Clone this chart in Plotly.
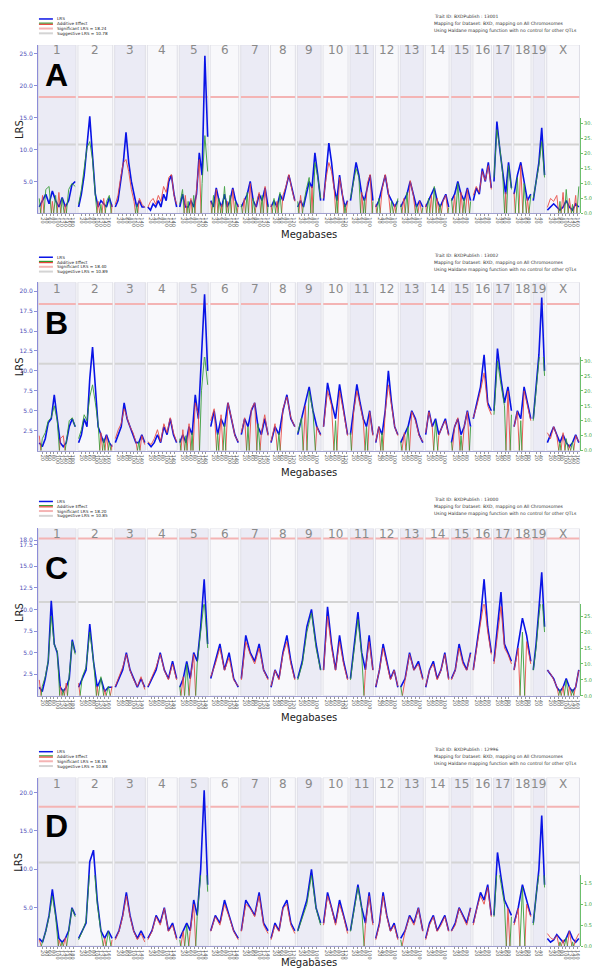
import numpy as np
import plotly.graph_objects as go

# ---------------- data ----------------
CHROMS = ["1", "2", "3", "4", "5", "6", "7", "8", "9", "10", "11", "12", "13", "14", "15", "16", "17", "18", "19", "X"]
CHR_LEN = [195.5, 182.1, 160.0, 156.5, 151.8, 149.7, 145.4, 129.4, 124.6, 130.7,
           122.1, 120.1, 120.4, 124.9, 104.0, 98.2, 95.0, 90.7, 61.4, 171.0]
PANELS = ["A", "B", "C", "D"]
TRAIT_IDS = ["13001", "13002", "13000", "12996"]
SIG_LRS = [18.24, 18.40, 18.20, 18.15]
SUG_LRS = [10.78, 10.89, 10.85, 10.88]

LRS_A = [[1, 2, 3, 1.5, 3.5, 2, 1, 2.5, 1, 2, 4.5, 5], [1, 3, 6, 10.5, 15.2, 9, 3, 1, 2, 1.5, 1, 2.5, 1],
         [1, 2, 5, 8, 12.7, 8, 5, 3, 1, 2, 1, 1], [1, 0.5, 1.5, 1, 2, 1, 3, 2, 5, 6, 3, 1],
         [1, 3, 1, 1, 2, 1, 3, 9.5, 6, 24.7, 12], [2, 1, 4, 2, 1, 3, 1, 2, 4, 2, 1],
         [1, 2, 3, 5, 2, 1, 3, 2, 4, 1], [1, 2, 1, 3, 2, 4, 6, 4, 2], [1, 2, 1, 3, 5, 4, 9.5, 6, 2],
         [2, 6, 11, 8, 4, 2, 6, 3, 1, 2], [2, 5, 8, 6, 3, 2, 4, 6, 2], [1, 2, 4, 6, 3, 2, 1, 2],
         [1, 2, 3, 5, 3, 1, 2, 1], [1, 2, 3, 4, 2, 1, 2, 3, 1], [2, 3, 5, 3, 2, 4, 2],
         [2, 4, 3, 7, 5, 8, 4], [5, 14.4, 10, 6, 3, 8, 4], [3, 6, 8, 5, 2, 3], [2, 5, 8, 13.4, 6],
         [0.5, 1, 1.5, 1, 0.5, 1, 2, 1, 0.5, 1.5, 1]]
ADD_A = [[-5, 6, -8, -9, 4, -6, 7, -5, 3, -8, -10, -9], [-3, -8, -15, -22, -24, -18, -6, 4, -3, 5, -4, -6, 3],
         [3, 6, 12, 17, 18, 14, 8, 4, -3, 5, 3, 2], [2, 4, 5, 3, 6, 4, 9, 7, 12, 13, 6, 3],
         [-3, -8, 6, -4, 5, -6, 8, 18, -10, -26, -14], [4, -6, 8, -5, 3, -9, 4, -6, 8, -4, 3],
         [-3, 5, -7, 10, -5, 3, 7, -6, 9, -3], [3, -5, 4, -7, 6, 9, 13, 8, 4],
         [-4, 6, -3, -8, -12, 9, -17, -12, -5], [5, 12, 17, 14, 8, -6, 12, 7, -3, 4],
         [-5, -10, -15, -12, 7, -5, 10, 13, -4], [3, -5, 8, 13, 7, -4, 3, -5], [-3, 5, -7, 11, 6, -3, 4, -2],
         [3, -5, 6, -9, 5, -3, 4, 6, -2], [-5, 6, -10, 7, -5, 8, -4], [6, 9, 7, 14, 11, 16, 8],
         [-12, -28, -22, -13, 7, -16, -8], [7, -12, 16, -10, 5, -6], [-5, -11, -16, -24, -12],
         [2, 5, 4, 6, -4, 7, -8, 5, -3, 6, -9]]

LRS_B = [[1, 0.5, 1.5, 3.5, 4, 7, 4, 1, 0.5, 1, 3, 4, 3], [1, 2, 4, 3, 9, 13, 8, 3, 2, 1, 2, 1, 0.5],
         [1, 2, 3, 6, 4, 3, 2, 1, 1, 2, 1], [1, 0.5, 1, 2, 1, 3, 2, 4, 2, 1],
         [1, 2, 1, 3, 2, 7, 4, 12, 19.6, 10], [3, 5, 2, 4, 3, 6, 4, 2, 1], [2, 4, 3, 5, 6, 3, 2, 4, 2],
         [1, 3, 2, 5, 7, 4, 3], [2, 4, 6, 8, 5, 3, 2], [3, 8.5, 6, 4, 8.3, 5, 2], [2, 5, 8.3, 6, 4, 3, 5, 2],
         [1, 3, 2, 5, 10, 6, 3, 2], [1, 2, 3, 5, 4, 2, 1], [2, 5, 3, 4, 2, 3, 4, 2], [1, 3, 4, 2, 3, 5, 3],
         [4, 6, 8, 12, 6, 5], [5, 12.8, 9, 6, 8, 5], [3, 5, 4, 8, 6, 4], [4, 8, 12, 19.2, 10],
         [1, 2, 3, 2, 1, 2, 1, 0.5, 1, 2, 1]]
ADD_B = [[5, -4, -6, -10, -11, -15, -10, 4, 5, -3, -10, -11, -8], [-4, -7, -12, -10, -18, -22, -16, -9, 6, -4, 5, -3, 2],
         [4, 7, 9, 14, 11, 8, 6, 3, -3, 5, 2], [3, 2, 4, 7, 3, 9, 6, 11, 6, 3],
         [-4, 7, -5, 9, -6, 16, 12, -20, -32, -22], [10, 14, -6, 12, -9, 16, 11, 5, 3],
         [6, 11, -8, 14, 16, -9, 6, 12, 5], [3, 9, -6, 14, 18, 11, 8], [-6, -11, 15, -20, -13, 8, 5],
         [8, 20, 15, -10, 20, 13, 5], [-6, 13, 20, 15, 10, -8, 13, 5], [3, 8, -6, 13, 22, 15, 8, 5],
         [-3, 6, -8, 13, 10, 5, 3], [6, 13, 8, -10, 5, 8, 10, 5], [-3, 8, 11, -5, 8, 13, -8],
         [11, 15, 20, 26, 15, 12], [-12, -30, -22, -15, 20, -12], [8, 13, -10, 20, 15, 10],
         [-10, -20, -28, -40, -25], [6, 4, 8, 5, -3, 6, -4, 2, -3, 5, 3]]

LRS_C = [[1, 0.5, 2, 4, 11, 6, 5, 1, 0.5, 1, 2, 6.5, 5], [1, 2, 3, 8.3, 4, 1, 2, 0.5, 1, 1],
         [1, 2, 3, 5, 3, 2, 1, 2, 1], [1, 2, 3, 5, 3, 2, 4, 2], [1, 2, 4, 2, 5, 4, 8, 13.5, 6],
         [2, 4, 6, 3, 5, 2, 1], [2, 7, 5, 4, 6, 3, 2], [1, 3, 2, 5, 7, 4, 2], [2, 4, 8, 10, 6, 3],
         [3, 10.3, 6, 3, 7, 4, 2], [2, 6, 9.7, 5, 3, 7, 3], [1, 3, 6, 4, 2, 3, 1], [1, 2, 5, 3, 4, 2],
         [1, 3, 4, 2, 3, 5, 2], [2, 3, 6, 4, 3, 5], [3, 6, 9, 13.5, 8, 5], [4, 8, 12, 6, 5, 4],
         [3, 6, 9, 7, 4], [3, 6, 10, 14.3, 8], [3, 2.5, 2, 1, 0.5, 1, 2, 1, 0.5, 1, 3]]
ADD_C = [[5, -3, -6, -11, -25, -16, -14, 3, -2, 4, -6, -17, -13], [4, -6, -9, -20, -11, 3, -6, 2, -3, 3],
         [3, 6, 9, 13, 8, 5, 3, 6, 2], [3, 6, 9, 13, 8, 5, 10, 5], [-3, 6, -10, 5, 13, -10, -20, -30, -15],
         [6, 10, 15, 8, 12, 5, 3], [5, 17, 13, 10, 15, 8, 5], [3, 8, 5, 13, 17, 10, 5],
         [-5, -10, -20, -26, -15, -8], [8, 25, 15, 8, 17, 10, 5], [-5, -15, -24, -13, 8, 17, 8],
         [3, 8, 15, 10, 5, 8, 3], [-3, 5, 13, 8, 10, 5], [3, 8, 10, 5, 8, 13, 5], [5, 8, 15, 10, 8, 13],
         [8, 15, 22, 30, 20, 13], [10, 20, 28, 15, 13, 10], [8, 15, -20, 17, 10], [-8, -15, -25, -32, -20],
         [8, 7, 5, 3, -2, 3, -5, 3, -2, 3, 8]]

LRS_D = [[1, 0.5, 2, 4, 7.4, 4, 1, 0.5, 1, 2, 5, 4], [1, 2, 3, 11, 12.5, 6, 2, 1, 2, 1],
         [1, 2, 4, 7, 4, 2, 1, 2, 1], [1, 2, 4, 3, 5, 2, 3, 1], [1, 2, 3, 2, 6, 4, 10, 20.3, 8],
         [2, 4, 3, 6, 4, 2, 1], [2, 6, 5, 4, 7, 3, 2], [1, 3, 2, 5, 6, 3, 2], [2, 4, 6, 10, 5, 3],
         [3, 7, 5, 3, 6, 4, 2], [2, 5, 8, 5, 3, 7, 3], [1, 3, 7, 4, 2, 3, 1], [1, 2, 4, 3, 5, 2],
         [1, 3, 4, 2, 3, 4, 2], [2, 3, 5, 4, 3, 5], [3, 5, 7, 6, 8, 4], [4, 12.2, 9, 6, 5, 4],
         [3, 5, 8, 6, 4], [3, 7, 10, 17, 8], [1, 0.5, 0.8, 1.5, 1, 0.5, 1, 2, 1, 0.5, 1]]
ADD_D = [[0.15, -0.1, -0.35, -0.7, -1.2, -0.7, 0.15, -0.1, 0.2, -0.35, -0.9, -0.7],
         [-0.15, -0.35, -0.6, -1.8, -2.1, -1.0, -0.35, 0.2, -0.35, 0.15],
         [0.15, 0.35, 0.7, 1.2, 0.7, 0.35, 0.15, 0.3, 0.1], [0.15, 0.35, 0.7, 0.5, 0.9, 0.35, 0.5, 0.15],
         [-0.15, 0.35, -0.5, 0.35, 1.0, -0.7, -1.7, -3, -1.3], [0.35, 0.7, 0.5, 1.0, 0.7, 0.35, 0.15],
         [0.35, 1.0, 0.9, 0.7, 1.2, 0.5, 0.3], [0.15, 0.5, 0.35, 0.9, 1.0, 0.5, 0.3],
         [-0.35, -0.7, -1.0, -1.7, -0.9, -0.5], [0.5, 1.2, 0.9, 0.5, 1.0, 0.7, 0.3],
         [-0.35, -0.9, -1.4, -0.9, 0.5, 1.2, 0.5], [0.15, 0.5, 1.2, 0.7, 0.35, 0.5, 0.15],
         [-0.15, 0.35, 0.7, 0.5, 0.9, 0.35], [0.15, 0.5, 0.7, 0.35, 0.5, 0.7, 0.35],
         [0.35, 0.5, 0.9, 0.7, 0.5, 0.9], [0.5, 0.9, 1.2, 1.0, 1.4, 0.7], [-0.7, -2.0, -1.5, -1.0, 0.9, -0.7],
         [0.5, 0.9, -1.4, 1.0, 0.7], [-0.5, -1.2, -1.7, -2.9, -1.4],
         [0.3, 0.2, 0.15, 0.25, -0.1, 0.15, -0.2, 0.35, -0.1, 0.15, 0.3]]

LRS_ALL = [LRS_A, LRS_B, LRS_C, LRS_D]
ADD_ALL = [ADD_A, ADD_B, ADD_C, ADD_D]

LRS_TICKS = [[5, 10, 15, 20, 25], [2.5, 5, 7.5, 10, 12.5, 15, 17.5, 20],
             [2.5, 5, 7.5, 10, 12.5, 15, 17.5, 18.0], [5, 10, 15, 20]]
ADD_TICKS = [[0, 5, 10, 15, 20, 25, 30], [0, 5, 10, 15, 20, 25, 30],
             [0, 5, 10, 15, 20, 25], [0, 0.5, 1.0, 1.5]]

# ---------------- layout (pixel geometry) ----------------
W, H = 600, 971
X0, X1 = 30, 573
GAP = 10
GEOM = [
    dict(top=37, base=206, lpu=6.4, rtop=110, rpu=3.0, leg=11, chr=42, mb=227, let=67),
    dict(top=275, base=444, lpu=8.0, rtop=350, rpu=3.0, leg=250, chr=282, mb=466, let=316),
    dict(top=522, base=690, lpu=8.67, rtop=598, rpu=3.2, leg=495, chr=528, mb=712, let=562),
    dict(top=772, base=941, lpu=7.7, rtop=870, rpu=42.0, leg=746, chr=778, mb=957, let=821),
]

offsets = []
acc = 0.0
for L in CHR_LEN:
    offsets.append(acc)
    acc += L + GAP
XMAX = acc - GAP


def py(p):
    return 1 - p / H


def px(p):
    return p / W


BLUE = "#0a14e6"
RED = "#e8453c"
GREEN = "#2f9a2f"
SIGC = "#f4b4b4"
SUGC = "#d4d4d4"

fig = go.Figure()
shapes = []
annotations = []
layout_axes = {}

tickvals, ticktext = [], []
for c, L in enumerate(CHR_LEN):
    m = 20
    while m < L - 5:
        tickvals.append(offsets[c] + m)
        ticktext.append(str(m))
        m += 20


def split_signed(xs, vs):
    rx, ry, gx, gy = [], [], [], []
    for j, (x, v) in enumerate(zip(xs, vs)):
        if j > 0:
            pv, pxv = vs[j - 1], xs[j - 1]
            if pv * v < 0:
                xc = pxv + (x - pxv) * pv / (pv - v)
                if pv > 0:
                    rx += [xc, None]; ry += [0, None]; gx.append(xc); gy.append(0)
                else:
                    gx += [xc, None]; gy += [0, None]; rx.append(xc); ry.append(0)
        if v >= 0:
            rx.append(x); ry.append(v)
        else:
            gx.append(x); gy.append(-v)
    rx.append(None); ry.append(None); gx.append(None); gy.append(None)
    return rx, ry, gx, gy


def note(x, y, text, size, color="#222", xanchor="center", family="DejaVu Sans", angle=0, xref="paper"):
    return dict(x=x, y=y, xref=xref, yref="paper", text=text, showarrow=False, textangle=angle,
                xanchor=xanchor, yanchor="middle", font=dict(size=size, color=color, family=family))


for i, g in enumerate(GEOM):
    xk = "xaxis" if i == 0 else f"xaxis{i + 1}"
    xid = "x" if i == 0 else f"x{i + 1}"
    ly = 2 * i + 1
    ry_ = 2 * i + 2
    lyk = "yaxis" if ly == 1 else f"yaxis{ly}"
    lyid = "y" if ly == 1 else f"y{ly}"
    ryk = f"yaxis{ry_}"
    ryid = f"y{ry_}"
    lmax = (g["base"] - g["top"]) / g["lpu"]
    rmax = (g["base"] - g["rtop"]) / g["rpu"]

    layout_axes[xk] = dict(domain=[px(X0), px(X1)], range=[-3, XMAX + 3], anchor=lyid,
                           showgrid=False, zeroline=False, showline=True, linecolor="#a0a0d0", linewidth=1,
                           tickmode="array", tickvals=tickvals, ticktext=ticktext, tickangle=90,
                           tickfont=dict(size=5, color="#555", family="DejaVu Sans"),
                           ticks="outside", ticklen=2, tickcolor="#999", fixedrange=True)
    fmt = [f"{v:.1f}" for v in LRS_TICKS[i]]
    layout_axes[lyk] = dict(domain=[py(g["base"]), py(g["top"])], range=[0, lmax], anchor=xid,
                            showgrid=False, zeroline=False, showline=True, linecolor="#8c8cd8", linewidth=1,
                            tickmode="array", tickvals=LRS_TICKS[i], ticktext=fmt,
                            tickfont=dict(size=6, color="#5050b8", family="DejaVu Sans"),
                            ticks="outside", ticklen=3, tickcolor="#8c8cd8")
    rfmt = [f"{v:.3f}" for v in ADD_TICKS[i]]
    layout_axes[ryk] = dict(domain=[py(g["base"]), py(g["rtop"])], range=[0, rmax], anchor=xid, side="right",
                            showgrid=False, zeroline=False, showline=True, linecolor="#6cbf6c", linewidth=1,
                            tickmode="array", tickvals=ADD_TICKS[i], ticktext=rfmt,
                            tickfont=dict(size=5, color="#3aa03a", family="DejaVu Sans"),
                            ticks="outside", ticklen=2, tickcolor="#6cbf6c")

    for c, L in enumerate(CHR_LEN):
        x0 = offsets[c]
        shapes.append(dict(type="rect", xref=xid, yref=lyid, x0=x0, x1=x0 + L, y0=0, y1=lmax,
                           fillcolor="#ebebf5" if c % 2 == 0 else "#f8f8fb",
                           line=dict(color="#dedee6", width=1), layer="below"))
        shapes.append(dict(type="line", xref=xid, yref=lyid, x0=x0 + 1, x1=x0 + L - 1,
                           y0=SIG_LRS[i], y1=SIG_LRS[i], line=dict(color=SIGC, width=2), layer="below"))
        shapes.append(dict(type="line", xref=xid, yref=lyid, x0=x0 + 1, x1=x0 + L - 1,
                           y0=SUG_LRS[i], y1=SUG_LRS[i], line=dict(color=SUGC, width=2), layer="below"))
        annotations.append(note(x0 + L / 2, py(g["chr"]), CHROMS[c], 12, "#8a8a8a", xref=xid))

    rxa, rya, gxa, gya = [], [], [], []
    for c, vals in enumerate(ADD_ALL[i]):
        L = CHR_LEN[c]
        xs = list(offsets[c] + np.linspace(0.02 * L, 0.98 * L, len(vals)))
        a, b, cc, d = split_signed(xs, vals)
        rxa += a; rya += b; gxa += cc; gya += d
    fig.add_trace(go.Scatter(x=rxa, y=rya, xaxis=xid, yaxis=ryid, mode="lines",
                             line=dict(color=RED, width=1), opacity=0.85, showlegend=False, hoverinfo="skip"))
    fig.add_trace(go.Scatter(x=gxa, y=gya, xaxis=xid, yaxis=ryid, mode="lines",
                             line=dict(color=GREEN, width=1), opacity=0.85, showlegend=False, hoverinfo="skip"))

    lx, lyv = [], []
    for c, vals in enumerate(LRS_ALL[i]):
        L = CHR_LEN[c]
        xs = list(offsets[c] + np.linspace(0.02 * L, 0.98 * L, len(vals)))
        lx += xs + [None]
        lyv += list(vals) + [None]
    fig.add_trace(go.Scatter(x=lx, y=lyv, xaxis=xid, yaxis=lyid, mode="lines",
                             line=dict(color=BLUE, width=1.6), showlegend=False, hoverinfo="skip"))

    leg_items = [("LRS", [(BLUE, 1.5, 0)]),
                 ("Additive Effect", [(GREEN, 1.2, -0.6), (RED, 1.2, 0.6)]),
                 (f"Significant LRS = {SIG_LRS[i]:.2f}", [(SIGC, 2, 0)]),
                 (f"Suggestive LRS = {SUG_LRS[i]:.2f}", [(SUGC, 2, 0)])]
    for k, (lab, lines) in enumerate(leg_items):
        yy = g["leg"] + k * 4.8
        for col, wd, off in lines:
            shapes.append(dict(type="line", xref="paper", yref="paper", x0=px(31), x1=px(45),
                               y0=py(yy + off), y1=py(yy + off), line=dict(color=col, width=wd)))
        annotations.append(note(px(47), py(yy), lab, 4.2, "#222", xanchor="left"))

    info = [f"Trait ID: BXDPublish : {TRAIT_IDS[i]}",
            "Mapping for Dataset: BXD, mapping on All Chromosomes",
            "Using Haldane mapping function with no control for other QTLs"]
    for k, t in enumerate(info):
        annotations.append(note(px(425), py(g["leg"] - 2 + k * 7), t, 4.5, "#333", xanchor="left"))

    annotations.append(note(px(11), py((g["top"] + g["base"]) / 2), "LRS", 10, "#222", angle=-90))
    annotations.append(note(px(302), py(g["mb"]), "Megabases", 10, "#222"))
    annotations.append(note(px(49), py(g["let"]), f"<b>{PANELS[i]}</b>", 32, "#000", family="Liberation Sans"))

fig.update_layout(width=W, height=H, margin=dict(l=0, r=0, t=0, b=0),
                  paper_bgcolor="white", plot_bgcolor="rgba(0,0,0,0)",
                  shapes=shapes, annotations=annotations, showlegend=False, **layout_axes)

fig.write_html("out.html")
